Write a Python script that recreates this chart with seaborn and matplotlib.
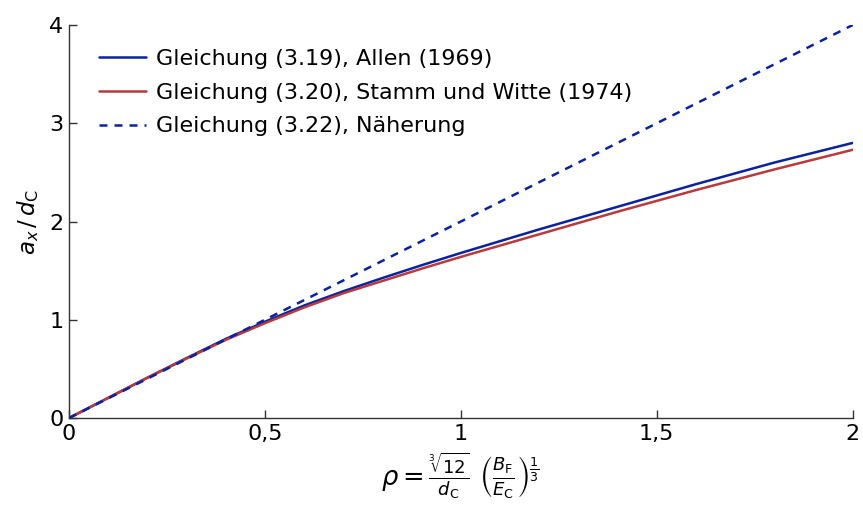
import numpy as np
import pandas as pd
import matplotlib
matplotlib.use("Agg")
import matplotlib.pyplot as plt
import seaborn as sns

# ---- data ----
rho = [0.0, 0.1, 0.2, 0.3, 0.4, 0.5, 0.6, 0.7, 0.8, 0.9, 1.0,
       1.1, 1.2, 1.3, 1.4, 1.5, 1.6, 1.7, 1.8, 1.9, 2.0]
allen = [0.0, 0.205, 0.41, 0.61, 0.805, 0.98, 1.145, 1.29, 1.425, 1.555, 1.68,
         1.80, 1.92, 2.035, 2.15, 2.265, 2.38, 2.49, 2.60, 2.70, 2.80]
stamm = [0.0, 0.205, 0.41, 0.605, 0.795, 0.965, 1.125, 1.27, 1.395, 1.52, 1.64,
         1.755, 1.87, 1.985, 2.10, 2.21, 2.32, 2.425, 2.53, 2.63, 2.73]
approx_x = [0.0, 2.0]
approx_y = [0.0, 4.0]

labels = ["Gleichung (3.19), Allen (1969)",
          "Gleichung (3.20), Stamm und Witte (1974)",
          "Gleichung (3.22), Näherung"]
xticks = [0, 0.5, 1, 1.5, 2]
xticklabels = ["0", "0,5", "1", "1,5", "2"]
yticks = [0, 1, 2, 3, 4]

sns.set_style("ticks")
plt.rcParams['font.family'] = ['DejaVu Sans']
plt.rcParams['mathtext.fontset'] = 'dejavusans'
plt.rcParams['text.color'] = 'black'
plt.rcParams['axes.labelcolor'] = 'black'
plt.rcParams['xtick.color'] = 'black'
plt.rcParams['ytick.color'] = 'black'

fig = plt.figure(figsize=(8.63, 5.11), dpi=100)
ax = fig.add_axes([0.080, 0.182, 0.908, 0.769])

blue = "#0a22a0"
red = "#b83a3c"

sns.lineplot(x=rho, y=allen, ax=ax, color=blue, linewidth=1.8, label=labels[0])
sns.lineplot(x=rho, y=stamm, ax=ax, color=red, linewidth=1.8, label=labels[1])
sns.lineplot(x=approx_x, y=approx_y, ax=ax, color=blue, linewidth=1.8,
             linestyle=(0, (3.2, 2.8)), label=labels[2])

ax.set_xlim(0, 2)
ax.set_ylim(0, 4)
ax.set_xticks(xticks)
ax.set_xticklabels(xticklabels)
ax.set_yticks(yticks)
ax.tick_params(direction="in", length=6, width=1, labelsize=16, pad=4,
               color="#333333", labelcolor="black")
for s in ["top", "right"]:
    ax.spines[s].set_visible(False)
for s in ["left", "bottom"]:
    ax.spines[s].set_linewidth(1)
    ax.spines[s].set_color("#333333")

ax.set_ylabel(r"$a_x\,/\,d_\mathrm{C}$", fontsize=16.5, labelpad=6)
ax.set_xlabel(r"$\rho = \frac{\sqrt[3]{12}}{d_\mathrm{C}}\ \left(\frac{B_\mathrm{F}}{E_\mathrm{C}}\right)^{\frac{1}{3}}$",
              fontsize=18.5, labelpad=5)

leg = ax.legend(loc="upper left", bbox_to_anchor=(0.027, 0.962), frameon=False,
                fontsize=16, handlelength=2.1, handletextpad=0.45,
                labelspacing=0.62, borderaxespad=0)

fig.savefig("out.png", dpi=100)
